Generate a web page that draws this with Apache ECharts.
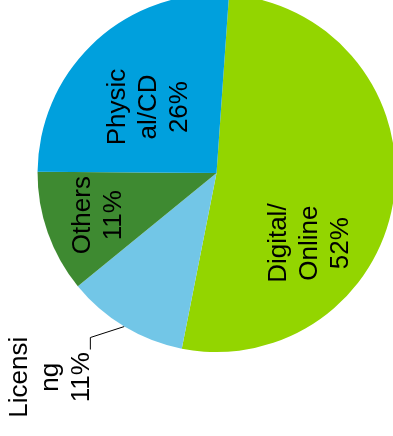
<!DOCTYPE html>
<html>
<head>
<meta charset="utf-8">
<style>
  html, body { margin: 0; padding: 0; background: #ffffff; }
  #chart { width: 393px; height: 436px; }
</style>
<script src="https://cdn.jsdelivr.net/npm/echarts@6/dist/echarts.min.js"></script>
</head>
<body>
<div id="chart"></div>
<script>
// Revenue share by channel (percent)
const categories = ['Digital/Online', 'Licensing', 'Others', 'Physical/CD'];
const shares = [52, 11, 11, 26];
// Label text as it wraps on the chart
const wrappedNames = ['Digital/\nOnline', 'Licensi\nng', 'Others', 'Physic\nal/CD'];
const colors = ['#93d500', '#72c6e7', '#3e8a31', '#00a0dd'];

// Pie geometry
const CENTER = [0.551, 0.397];
const RADIUS = 179;
// Label anchor per slice: [angle in degrees (counter-clockwise from +x), distance as fraction of radius]
const labelPolar = [[-37, 0.65], [-129.1, 1.47], [199.6, 0.70], [135.9, 0.53]];

const chart = echarts.init(document.getElementById('chart'), null, { renderer: 'canvas' });

function labelPos(i) {
  const cx = chart.getWidth() * CENTER[0];
  const cy = chart.getHeight() * CENTER[1];
  const a = labelPolar[i][0] * Math.PI / 180;
  const r = labelPolar[i][1] * RADIUS;
  return [cx + r * Math.cos(a), cy - r * Math.sin(a)];
}

const data = categories.map((name, i) => {
  const outside = i === 1;
  return {
    name: name,
    value: shares[i],
    itemStyle: { color: colors[i] },
    label: { position: outside ? 'outside' : 'inside' },
    labelLine: { show: outside }
  };
});

chart.setOption({
  animation: false,
  backgroundColor: '#ffffff',
  series: [{
    type: 'pie',
    center: [(CENTER[0] * 100) + '%', (CENTER[1] * 100) + '%'],
    radius: RADIUS,
    startAngle: 86,
    clockwise: true,
    avoidLabelOverlap: false,
    data: data,
    label: {
      show: true,
      rotate: 90,
      color: '#000000',
      fontFamily: '"Liberation Sans", Arial, sans-serif',
      fontSize: 26,
      lineHeight: 31,
      align: 'center',
      formatter: p => wrappedNames[p.dataIndex] + '\n' + p.value + '%'
    },
    labelLine: {
      lineStyle: { color: '#000000', width: 1 }
    },
    labelLayout: function (params) {
      const i = params.dataIndex;
      const pos = labelPos(i);
      const out = { x: pos[0], y: pos[1], align: 'center', verticalAlign: 'middle' };
      if (i === 1 && params.labelLinePoints) {
        const start = params.labelLinePoints[0];
        const elbow = [start[0] - 34, start[1] + 11];
        const end = [elbow[0], elbow[1] + 12];
        out.labelLinePoints = [start, elbow, end];
      }
      return out;
    }
  }]
});
</script>
</body>
</html>
